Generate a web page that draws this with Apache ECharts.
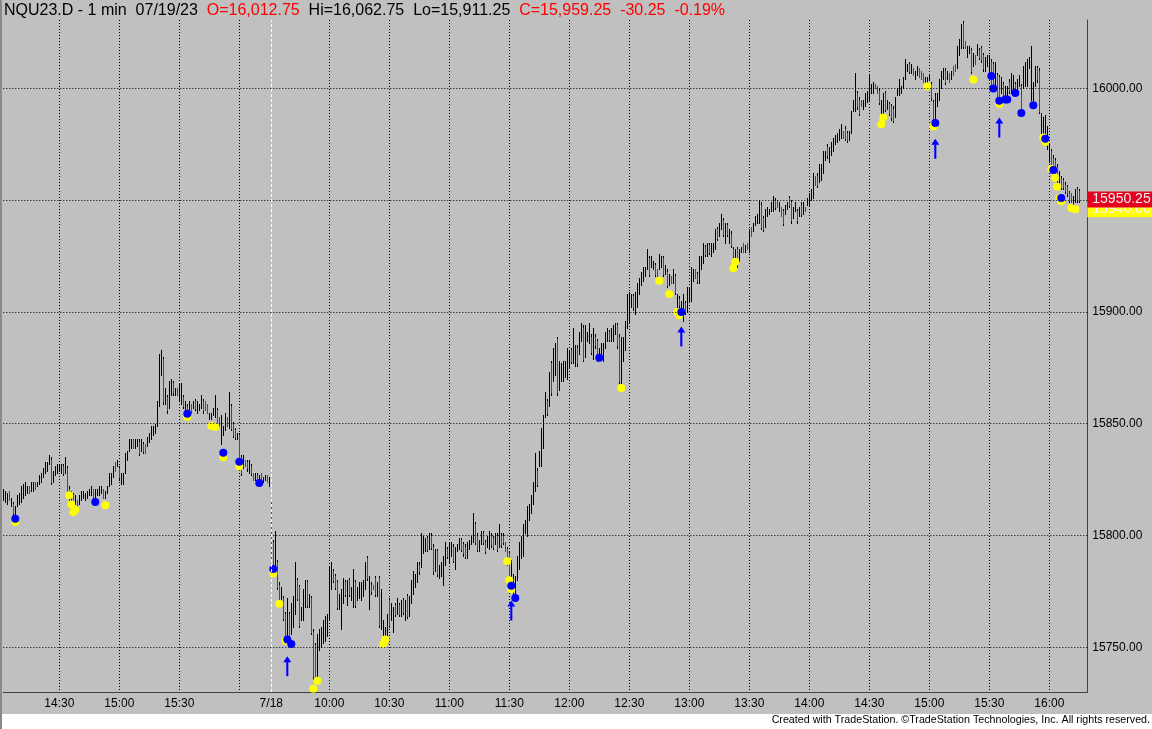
<!DOCTYPE html>
<html><head><meta charset="utf-8">
<script src="https://cdn.jsdelivr.net/npm/echarts@6.0.0/dist/echarts.min.js"></script>
<style>
html,body{margin:0;padding:0;background:#fff;}
#chart{width:1152px;height:729px;background:linear-gradient(to bottom,#c0c0c0 0,#c0c0c0 714px,#ffffff 714px);box-shadow:inset 2px 0 0 #8a8a8a;}
</style></head><body><div id="chart"></div>
<script>
// bars: [open, close, low, high]
const day1Bars = [
[15816,15821,15816,15821],[15815,15820,15815,15820],[15814,15819,15814,15819],[15820,15816,15816,15820],[15813,15817,15813,15817],
[15814,15810,15809,15815],[15809,15813,15809,15813],[15813,15818,15813,15818],[15814,15819,15814,15819],[15815,15822,15815,15822],
[15817,15823,15817,15823],[15818,15824,15818,15824],[15819,15822,15819,15822],[15822,15819,15819,15822],[15820,15824,15820,15824],
[15820,15824,15820,15824],[15824,15821,15821,15824],[15822,15824,15822,15824],[15823,15827,15823,15827],[15824,15828,15824,15828],
[15826,15830,15826,15830],[15828,15833,15828,15833],[15829,15833,15829,15833],[15832,15836,15832,15836],[15834,15824,15823,15835],
[15824,15829,15824,15829],[15827,15831,15827,15831],[15828,15832,15828,15832],[15829,15832,15829,15832],[15828,15832,15828,15832],
[15831,15828,15827,15832],[15828,15835,15828,15835],[15830,15820,15819,15831],[15821,15817,15816,15822],[15816,15820,15816,15820],
[15818,15814,15813,15819],[15814,15818,15814,15818],[15816,15813,15813,15816],[15814,15818,15814,15818],[15816,15820,15816,15820],
[15817,15820,15817,15820],[15816,15819,15816,15819],[15817,15820,15817,15820],[15818,15821,15818,15821],[15818,15822,15818,15822],
[15821,15817,15817,15821],[15817,15821,15817,15821],[15818,15821,15818,15821],[15818,15822,15818,15822],[15819,15822,15819,15822],
[15821,15817,15817,15821],[15817,15820,15817,15820],[15819,15822,15819,15822],[15822,15828,15822,15828],[15823,15828,15823,15828],
[15826,15831,15826,15831],[15833,15829,15829,15833],[15831,15834,15831,15834],[15830,15826,15825,15831],[15823,15828,15823,15828],
[15823,15828,15823,15828],[15828,15837,15828,15837],[15834,15838,15834,15838],[15838,15843,15838,15843],[15839,15843,15839,15843],
[15843,15839,15839,15843],[15839,15843,15839,15843],[15840,15843,15840,15843],[15842,15837,15836,15843],[15838,15843,15838,15843],
[15841,15838,15837,15842],[15841,15837,15837,15841],[15840,15844,15840,15844],[15842,15846,15842,15846],[15843,15849,15843,15849],
[15845,15849,15845,15849],[15846,15850,15846,15850],[15849,15860,15849,15860],[15858,15881,15858,15881],[15872,15883,15872,15883],
[15879,15860,15859,15880],[15859,15866,15859,15866],[15862,15856,15855,15863],[15857,15869,15857,15869],[15863,15870,15863,15870],
[15868,15864,15863,15869],[15863,15866,15863,15866],[15866,15863,15863,15866],[15860,15868,15860,15868],[15859,15868,15859,15868],
[15862,15858,15857,15863],[15856,15860,15856,15860],[15858,15855,15854,15859],[15856,15860,15856,15860],[15859,15855,15855,15859],
[15857,15860,15857,15860],[15860,15857,15856,15861],[15855,15860,15855,15860],[15856,15859,15856,15859],[15857,15863,15857,15863],
[15860,15856,15855,15861],[15860,15856,15856,15860],[15859,15855,15855,15859],[15852,15855,15852,15855],[15852,15855,15852,15855],
[15854,15857,15854,15857],[15853,15863,15853,15863],[15856,15850,15849,15857],[15853,15849,15849,15853],[15841,15854,15841,15854],
[15845,15849,15845,15849],[15847,15855,15847,15855],[15853,15849,15849,15853],[15848,15864,15848,15864],[15858,15848,15847,15859],
[15850,15845,15844,15851],[15847,15844,15843,15848],[15843,15846,15843,15846],[15845,15835,15834,15846],[15835,15828,15827,15836],
[15830,15836,15830,15836],[15834,15831,15831,15834],[15833,15830,15829,15834],[15828,15834,15828,15834],[15831,15828,15827,15832],
[15828,15825,15825,15828],[15825,15828,15825,15828],[15827,15824,15823,15828],[15823,15827,15823,15827],[15828,15825,15825,15828],
[15824,15826,15824,15826],[15825,15827,15825,15827],[15827,15824,15824,15827],[15822,15826,15822,15826]
];
const day2Bars = [
/*134*/[15815,15790,15789,15816],[15797,15783,15782,15798],[15785,15802,15785,15802],[15788,15777,15776,15789],[15778,15772,15771,15779],
/*139*/[15770,15777,15770,15777],[15772,15763,15762,15773],[15765,15754,15753,15766],[15753,15772,15753,15772],[15765,15753,15752,15766],
/*144*/[15756,15770,15756,15770],[15759,15773,15759,15773],[15765,15788,15765,15788],[15780,15772,15771,15781],[15777,15760,15759,15778],
/*149*/[15762,15768,15762,15768],[15762,15776,15762,15776],[15768,15780,15768,15780],[15779,15769,15768,15780],[15768,15774,15768,15774],
/*154*/[15772,15757,15756,15773],[15757,15737,15736,15758],[15751,15737,15736,15752],[15737,15756,15737,15756],[15749,15758,15749,15758],
/*159*/[15750,15759,15750,15759],[15752,15762,15752,15762],[15753,15764,15753,15764],[15755,15765,15755,15765],[15762,15786,15762,15786],
/*164*/[15776,15788,15776,15788],[15784,15780,15779,15785],[15782,15777,15776,15783],[15779,15768,15767,15780],[15767,15774,15767,15774],
/*169*/[15758,15776,15758,15776],[15770,15781,15770,15781],[15779,15774,15773,15780],[15769,15780,15769,15780],[15780,15774,15773,15781],
/*174*/[15771,15777,15771,15777],[15768,15785,15768,15785],[15779,15769,15768,15780],[15771,15777,15771,15777],[15772,15779,15772,15779],
/*179*/[15771,15779,15771,15779],[15773,15780,15773,15780],[15776,15788,15776,15788],[15790,15781,15780,15791],[15767,15782,15767,15782],
/*184*/[15778,15775,15774,15779],[15778,15776,15776,15778],[15781,15774,15773,15782],[15773,15779,15773,15779],[15781,15760,15759,15782],
/*189*/[15758,15776,15758,15776],[15752,15762,15752,15762],[15751,15759,15751,15759],[15755,15765,15755,15765],[15771,15760,15759,15772],
/*194*/[15762,15770,15762,15770],[15757,15768,15757,15768],[15769,15765,15764,15770],[15765,15772,15765,15772],[15769,15765,15764,15770],
/*199*/[15764,15771,15764,15771],[15771,15766,15765,15772],[15762,15771,15762,15771],[15773,15764,15763,15774],[15764,15773,15764,15773],
/*204*/[15770,15780,15770,15780],[15774,15784,15774,15784],[15777,15783,15777,15783],[15779,15788,15779,15788],[15787,15784,15783,15788],
/*209*/[15786,15801,15786,15801],[15792,15800,15792,15800],[15793,15799,15793,15799],[15799,15794,15793,15800],[15794,15801,15794,15801],
/*214*/[15800,15795,15794,15801],[15795,15784,15783,15796],[15784,15794,15784,15794],[15793,15783,15782,15794],[15781,15787,15781,15787],
/*219*/[15782,15788,15782,15788],[15778,15791,15778,15791],[15787,15797,15787,15797],[15794,15791,15790,15795],[15788,15797,15788,15797],
/*224*/[15791,15797,15791,15797],[15795,15789,15788,15796],[15785,15795,15785,15795],[15793,15796,15793,15796],[15794,15799,15794,15799],
/*229*/[15798,15794,15793,15799],[15796,15792,15791,15797],[15795,15791,15790,15796],[15790,15797,15790,15797],[15794,15798,15794,15798],
/*234*/[15796,15800,15796,15800],[15797,15810,15797,15810],[15805,15797,15796,15806],[15800,15794,15793,15801],[15793,15798,15793,15798],
/*239*/[15796,15802,15796,15802],[15801,15797,15796,15802],[15797,15793,15792,15798],[15795,15800,15795,15800],[15794,15802,15794,15802],
/*244*/[15800,15796,15795,15801],[15799,15795,15794,15800],[15796,15801,15796,15801],[15800,15794,15793,15801],[15795,15805,15795,15805],
/*249*/[15800,15796,15795,15801],[15800,15797,15796,15801],[15797,15793,15793,15797],[15794,15788,15787,15795],[15792,15781,15780,15793],
/*254*/[15776,15789,15776,15789],[15774,15783,15774,15783],[15772,15782,15772,15782],[15780,15791,15780,15791],[15785,15797,15785,15797],
/*259*/[15790,15800,15790,15800],[15791,15805,15791,15805],[15801,15807,15801,15807],[15800,15813,15800,15813],[15807,15814,15807,15814],
/*264*/[15810,15818,15810,15818],[15814,15824,15814,15824],[15820,15837,15820,15837],[15829,15823,15822,15830],[15831,15838,15831,15838],
/*269*/[15831,15848,15831,15848],[15839,15854,15839,15854],[15853,15864,15853,15864],[15860,15855,15854,15861],[15858,15873,15858,15873],
/*274*/[15877,15864,15863,15878],[15869,15884,15869,15884],[15872,15886,15872,15886],[15888,15864,15863,15889],[15865,15878,15865,15878],
/*279*/[15869,15877,15869,15877],[15869,15878,15869,15878],[15871,15878,15871,15878],[15870,15884,15870,15884],[15875,15883,15875,15883],
/*284*/[15883,15878,15877,15884],[15877,15893,15877,15893],[15876,15885,15876,15885],[15884,15877,15876,15885],[15881,15891,15881,15891],
/*289*/[15887,15895,15887,15895],[15893,15879,15878,15894],[15880,15894,15880,15894],[15887,15891,15887,15891],[15886,15895,15886,15895],
/*294*/[15889,15882,15881,15890],[15879,15893,15879,15893],[15889,15885,15884,15890],[15887,15879,15878,15888],[15881,15884,15881,15884],
/*299*/[15879,15886,15879,15886],[15878,15886,15878,15886],[15884,15891,15884,15891],[15887,15893,15887,15893],[15891,15888,15887,15892],
/*304*/[15887,15893,15887,15893],[15887,15894,15887,15894],[15890,15895,15890,15895],[15894,15885,15884,15895],[15889,15869,15868,15890],
/*309*/[15868,15889,15868,15889],[15878,15889,15878,15889],[15883,15896,15883,15896],[15893,15908,15893,15908],[15895,15909,15895,15909],
/*314*/[15902,15908,15902,15908],[15907,15902,15901,15908],[15899,15909,15899,15909],[15902,15913,15902,15913],[15908,15915,15908,15915],
/*319*/[15912,15918,15912,15918],[15914,15920,15914,15920],[15916,15920,15916,15920],[15919,15928,15919,15928],[15924,15917,15916,15925],
/*324*/[15920,15925,15920,15925],[15919,15923,15919,15923],[15921,15917,15916,15922],[15919,15916,15916,15919],[15919,15926,15919,15926],
/*329*/[15920,15925,15920,15925],[15924,15917,15916,15925],[15917,15921,15917,15921],[15918,15912,15911,15919],[15912,15917,15912,15917],
/*334*/[15916,15913,15913,15916],[15913,15919,15913,15919],[15916,15909,15908,15917],[15901,15908,15901,15908],[15906,15903,15902,15907],
/*339*/[15899,15905,15899,15905],[15896,15908,15896,15908],[15904,15900,15899,15905],[15900,15911,15900,15911],[15905,15911,15905,15911],
/*344*/[15905,15920,15905,15920],[15914,15919,15914,15919],[15919,15915,15915,15919],[15917,15914,15913,15918],[15913,15925,15913,15925],
/*349*/[15919,15925,15919,15925],[15922,15931,15922,15931],[15929,15926,15925,15930],[15925,15931,15925,15931],[15930,15927,15926,15931],
/*354*/[15925,15931,15925,15931],[15927,15931,15927,15931],[15928,15937,15928,15937],[15937,15933,15932,15938],[15934,15940,15934,15940],
/*359*/[15937,15944,15937,15944],[15941,15935,15934,15942],[15931,15940,15931,15940],[15939,15935,15934,15940],[15931,15937,15931,15937],
/*364*/[15935,15930,15929,15936],[15928,15925,15924,15929],[15922,15928,15922,15928],[15928,15921,15920,15929],[15923,15928,15923,15928],
/*369*/[15927,15929,15927,15929],[15931,15927,15927,15931],[15927,15930,15927,15930],[15931,15928,15928,15931],[15927,15937,15927,15937],
/*374*/[15938,15934,15934,15938],[15936,15940,15936,15940],[15939,15943,15939,15943],[15940,15944,15940,15944],[15940,15950,15940,15950],
/*379*/[15948,15938,15937,15949],[15942,15937,15936,15943],[15938,15946,15938,15946],[15943,15947,15943,15947],[15944,15946,15944,15946],
/*384*/[15945,15949,15945,15949],[15945,15952,15945,15952],[15950,15947,15946,15951],[15950,15947,15947,15950],[15945,15949,15945,15949],
/*389*/[15947,15943,15943,15947],[15945,15940,15939,15946],[15944,15948,15944,15948],[15946,15949,15946,15949],[15951,15948,15947,15952],
/*394*/[15949,15941,15940,15950],[15942,15947,15942,15947],[15945,15949,15945,15949],[15945,15941,15940,15946],[15943,15947,15943,15947],
/*399*/[15948,15944,15943,15949],[15944,15949,15944,15949],[15947,15945,15945,15947],[15948,15951,15948,15951],[15948,15953,15948,15953],
/*404*/[15950,15955,15950,15955],[15951,15962,15951,15962],[15961,15957,15957,15961],[15961,15957,15956,15962],[15958,15966,15958,15966],
/*409*/[15959,15966,15959,15966],[15962,15972,15962,15972],[15968,15972,15968,15972],[15974,15970,15969,15975],[15967,15974,15967,15974],
/*414*/[15970,15976,15970,15976],[15972,15978,15972,15978],[15975,15979,15975,15979],[15976,15980,15976,15980],[15977,15982,15977,15982],
/*419*/[15978,15984,15978,15984],[15981,15978,15978,15981],[15982,15978,15977,15983],[15980,15977,15976,15981],[15977,15981,15977,15981],
/*424*/[15980,15990,15980,15990],[15990,15995,15990,15995],[15990,16007,15990,16007],[15998,15992,15991,15999],[15995,15989,15988,15996],
/*429*/[15995,15992,15992,15995],[15991,15995,15991,15995],[15992,15998,15992,15998],[15994,15999,15994,15999],[15995,16006,15995,16006],
/*434*/[15998,16002,15998,16002],[15998,16003,15998,16003],[16002,16000,16000,16002],[16001,15998,15998,16001],[15999,15994,15993,16000],
/*439*/[15989,15995,15989,15995],[15989,15998,15989,15998],[15998,15991,15990,15999],[15991,15995,15991,15995],[15993,15989,15988,15994],
/*444*/[15992,15987,15986,15993],[15991,15986,15985,15992],[15987,15996,15987,15996],[15997,16000,15997,16000],[15997,16004,15997,16004],
/*449*/[15998,16001,15998,16001],[16000,16005,16000,16005],[16004,16013,16004,16013],[16008,16011,16008,16011],[16011,16008,16007,16012],
/*454*/[16007,16011,16007,16011],[16009,16006,16006,16009],[16004,16008,16004,16008],[16006,16010,16006,16010],[16009,16005,16005,16009],
/*459*/[16008,16004,16004,16008],[16007,16003,16003,16007],[16001,16005,16001,16005],[16003,16005,16003,16005],[16004,16006,16004,16006],
/*464*/[16002,15996,15995,16003],[15994,15986,15985,15995],[15986,15998,15986,15998],[15992,15998,15992,15998],[15995,16004,15995,16004],
/*469*/[16000,16008,16000,16008],[16004,16009,16004,16009],[16008,16003,16002,16009],[16004,16008,16004,16008],[16007,16003,16003,16007],
/*474*/[16004,16008,16004,16008],[16010,16006,16006,16010],[16011,16008,16008,16011],[16009,16019,16009,16019],[16015,16022,16015,16022],
/*479*/[16018,16029,16018,16029],[16029,16019,16018,16030],[16021,16018,16018,16021],[16014,16019,16014,16019],[16016,16019,16016,16019],
/*484*/[16017,16008,16007,16018],[16010,16016,16010,16016],[16015,16011,16011,16015],[16015,16020,16015,16020],[16017,16014,16013,16018],
/*489*/[16018,16013,16012,16019],[16015,16009,16008,16016],[16008,16014,16008,16014],[16010,16015,16010,16015],[16007,16015,16007,16015],
/*494*/[16012,16002,16001,16013],[16011,16002,16001,16012],[15999,16012,15999,16012],[16006,15995,15994,16007],[16005,15996,15995,16006],
/*499*/[15998,16005,15998,16005],[16002,15996,15995,16003],[15997,16001,15997,16001],[15996,16001,15996,16001],[16003,15999,15998,16004],
/*504*/[15998,16007,15998,16007],[15997,16006,15997,16006],[16002,15999,15998,16003],[15999,16004,15999,16004],[16001,16006,16001,16006],
/*509*/[16001,15990,15989,16002],[16000,16010,16000,16010],[16001,16012,16001,16012],[16001,16013,16001,16013],[16009,16014,16009,16014],
/*514*/[15995,16019,15995,16019],[15995,16003,15995,16003],[16001,16010,16001,16010],[16009,16004,16003,16010],[16008,15990,15989,16009],
/*519*/[15979,15989,15979,15989],[15976,15987,15976,15987],[15978,15988,15978,15988],[15973,15983,15973,15983],[15967,15975,15967,15975],
/*524*/[15972,15965,15964,15973],[15969,15965,15964,15970],[15968,15962,15961,15969],[15965,15959,15958,15966],[15957,15963,15957,15963],
/*529*/[15960,15956,15955,15961],[15959,15956,15955,15960],[15957,15954,15953,15958],[15956,15953,15952,15957],[15953,15950,15949,15954],
/*534*/[15953,15949,15949,15953],[15948,15952,15948,15952],[15949,15955,15949,15955],[15955,15950,15949,15956],[15954,15950.25,15949,15955]
];
// signal dots: [bar index, price]
const yellowDots = [[6,15806],[33,15818],[34,15814],[35,15810.5],[36,15811.5],[51,15813.5],[92,15853],[104,15849],[106,15848.5],
  [110,15835],[118,15831],[135,15783],[138,15769.5],[141,15753],[155,15731.5],[157,15735],[190,15751.5],[191,15753.5],
  [252,15788.5],[253,15780],[254,15776],[309,15866],[328,15914],[333,15908],[337,15900],[338,15898.5],[365,15919.5],
  [366,15922.5],[439,15984],[440,15987],[462,16001],[465,15983],[485,16004],[498,15993],[520,15978],[521,15976],
  [524,15964],[526,15960],[527,15956],[528,15951],[529,15949.5],[534,15946.5],[536,15946]];
const blueDots = [[6,15807.5],[46,15815],[92,15854.5],[110,15837],[118,15833],[128,15823.5],[135,15785],[142,15753.5],
  [144,15751.5],[254,15777.5],[256,15772],[298,15879.5],[339,15900],[466,15984.5],[494,16005.5],[495,16000],
  [498,15994.5],[501,15995],[502,15995],[506,15998],[509,15989],[515,15992.5],[521,15977.5],[525,15963.5],[529,15951]];
const arrowMarks = [[142,15741.5],[254,15766.5],[339,15889],[466,15973],[498,15982.5]];
const priceTicks = [15750,15800,15850,15900,15950,16000];
const timeTickLabels = ['7/17 14:30','7/17 15:00','7/17 15:30','7/18 9:31','7/18 10:00','7/18 10:30','7/18 11:00','7/18 11:30',
  '7/18 12:00','7/18 12:30','7/18 13:00','7/18 13:30','7/18 14:00','7/18 14:30','7/18 15:00','7/18 15:30','7/18 16:00'];
const unlabeledGrid = ['7/17 16:00'];
const sessionBreak = '7/18 9:31';
const lastPrice = 15950.25;
const prevMarker = 15946.00;

function minuteRange(h1, m1, h2, m2, day) {
  const out = [];
  for (let t = h1 * 60 + m1; t <= h2 * 60 + m2; t++) out.push(day + ' ' + Math.floor(t / 60) + ':' + String(t % 60).padStart(2, '0'));
  return out;
}
const categories = [...minuteRange(14, 2, 16, 15, '7/17'), ...minuteRange(9, 31, 16, 19, '7/18')];
const bars = [...day1Bars, ...day2Bars].map((b, i) => [i, b[0], b[1], b[2], b[3]]);
const labelSet = new Set(timeTickLabels);
const gridSet = new Set([...timeTickLabels.filter(v => v !== sessionBreak), ...unlabeledGrid]);
const FONT = "'Liberation Sans', Arial, sans-serif";

function renderBar(params, api) {
  const i = api.value(0), o = api.value(1), c = api.value(2), l = api.value(3), h = api.value(4);
  const pt = api.coord([i, h]), pb = api.coord([i, l]);
  const x = Math.round(pt[0]) + 0.5;
  const children = [{ type: 'line', shape: { x1: x, y1: Math.round(pt[1]), x2: x, y2: Math.round(pb[1]) + 1 },
    style: { stroke: '#000000', lineWidth: 1 } }];
  if (o > c) {
    const po = api.coord([i, o]), pc = api.coord([i, c]);
    children.push({ type: 'line', shape: { x1: x, y1: Math.round(po[1]), x2: x, y2: Math.round(pc[1]) + 1 },
      style: { stroke: '#ff0000', lineWidth: 1 } });
  }
  return { type: 'group', children };
}

const boxLabel = (txt, bg, fg) => ({ show: true, position: 'end', distance: 0, formatter: txt, opacity: 1,
  backgroundColor: bg, color: fg, fontSize: 14, fontFamily: FONT, padding: [1, 5, 1, 5] });

const chart = echarts.init(document.getElementById('chart'), null, { renderer: 'canvas' });
chart.setOption({
  backgroundColor: 'transparent',
  animation: false,
  title: [{
    left: 4, top: 3, padding: 0,
    text: '{k|NQU23.D - 1 min  07/19/23  }{r|O=16,012.75}{k|  Hi=16,062.75  Lo=15,911.25  }{r|C=15,959.25  -30.25  -0.19%}',
    textStyle: { fontSize: 16, fontFamily: FONT, fontWeight: 'normal',
      rich: { k: { color: '#000000', fontSize: 16, fontFamily: FONT }, r: { color: '#ff0000', fontSize: 16, fontFamily: FONT } } }
  }, {
    right: 2, top: 715, padding: 0,
    text: 'Created with TradeStation. \u00A9TradeStation Technologies, Inc. All rights reserved.',
    textStyle: { fontSize: 10.7, fontWeight: 'normal', color: '#000000', fontFamily: "'Liberation Sans Narrow', 'Arial Narrow', 'Liberation Sans', sans-serif" }
  }],
  grid: { left: 3.3, right: 64.7, top: 20, bottom: 37 },
  xAxis: {
    type: 'category', data: categories, boundaryGap: false,
    axisLine: { show: true, lineStyle: { color: '#404040', width: 1 } },
    axisTick: { show: false },
    axisLabel: { interval: (i, v) => labelSet.has(v), formatter: v => (v === sessionBreak ? '7/18' : v.split(' ')[1]),
      color: '#000000', fontSize: 12, fontFamily: FONT, margin: 6 },
    splitLine: { show: true, interval: (i, v) => gridSet.has(v), lineStyle: { color: '#000000', width: 1, type: [1, 2] } }
  },
  yAxis: {
    type: 'value', position: 'right', min: 15730, max: 16030.6, scale: true,
    axisLine: { show: true, lineStyle: { color: '#404040', width: 1 } },
    axisTick: { show: false }, axisLabel: { show: false }, splitLine: { show: false }
  },
  series: [
    { name: 'guides', type: 'scatter', data: [], z: 1, silent: true,
      markLine: { silent: true, animation: false, symbol: ['none', 'none'],
        lineStyle: { color: '#000000', width: 1, type: [1, 2] },
        label: { show: true, position: 'end', distance: 5, color: '#000000', fontSize: 12, fontFamily: FONT,
          formatter: p => Number(p.value).toFixed(2) },
        emphasis: { disabled: true },
        data: [...priceTicks.map(v => ({ yAxis: v })),
          { xAxis: sessionBreak, lineStyle: { color: '#ffffff', width: 1, type: [3, 2] }, label: { show: false } }] } },
    { name: 'bars', type: 'custom', renderItem: renderBar, data: bars, z: 2, silent: true,
      encode: { x: 0, y: [1, 2, 3, 4] } },
    { name: 'yellow', type: 'scatter', data: yellowDots, symbol: 'circle', symbolSize: 8, z: 3, silent: true,
      itemStyle: { color: '#ffff00', opacity: 1 } },
    { name: 'blue', type: 'scatter', data: blueDots, symbol: 'circle', symbolSize: 8, z: 4, silent: true,
      itemStyle: { color: '#0000ff', opacity: 1 } },
    { name: 'arrows', type: 'scatter', data: arrowMarks, z: 4, silent: true,
      symbol: 'path://M5,0 L10,9 L6.3,9 L6.3,30 L3.7,30 L3.7,9 L0,9 Z', symbolSize: [8, 20],
      itemStyle: { color: '#0000ff', opacity: 1 } },
    { name: 'price', type: 'scatter', data: [], z: 6, silent: true,
      markLine: { silent: true, animation: false, symbol: ['none', 'none'],
        lineStyle: { color: 'rgba(0,0,0,0)', width: 0, opacity: 1 },
        emphasis: { disabled: true },
        data: [
          { yAxis: prevMarker, label: boxLabel(prevMarker.toFixed(2), '#ffff00', '#f4f4f4') },
          { yAxis: lastPrice, label: boxLabel(lastPrice.toFixed(2), '#e60020', '#eeeeee') }
        ] } }
  ]
});
</script>
</body></html>
